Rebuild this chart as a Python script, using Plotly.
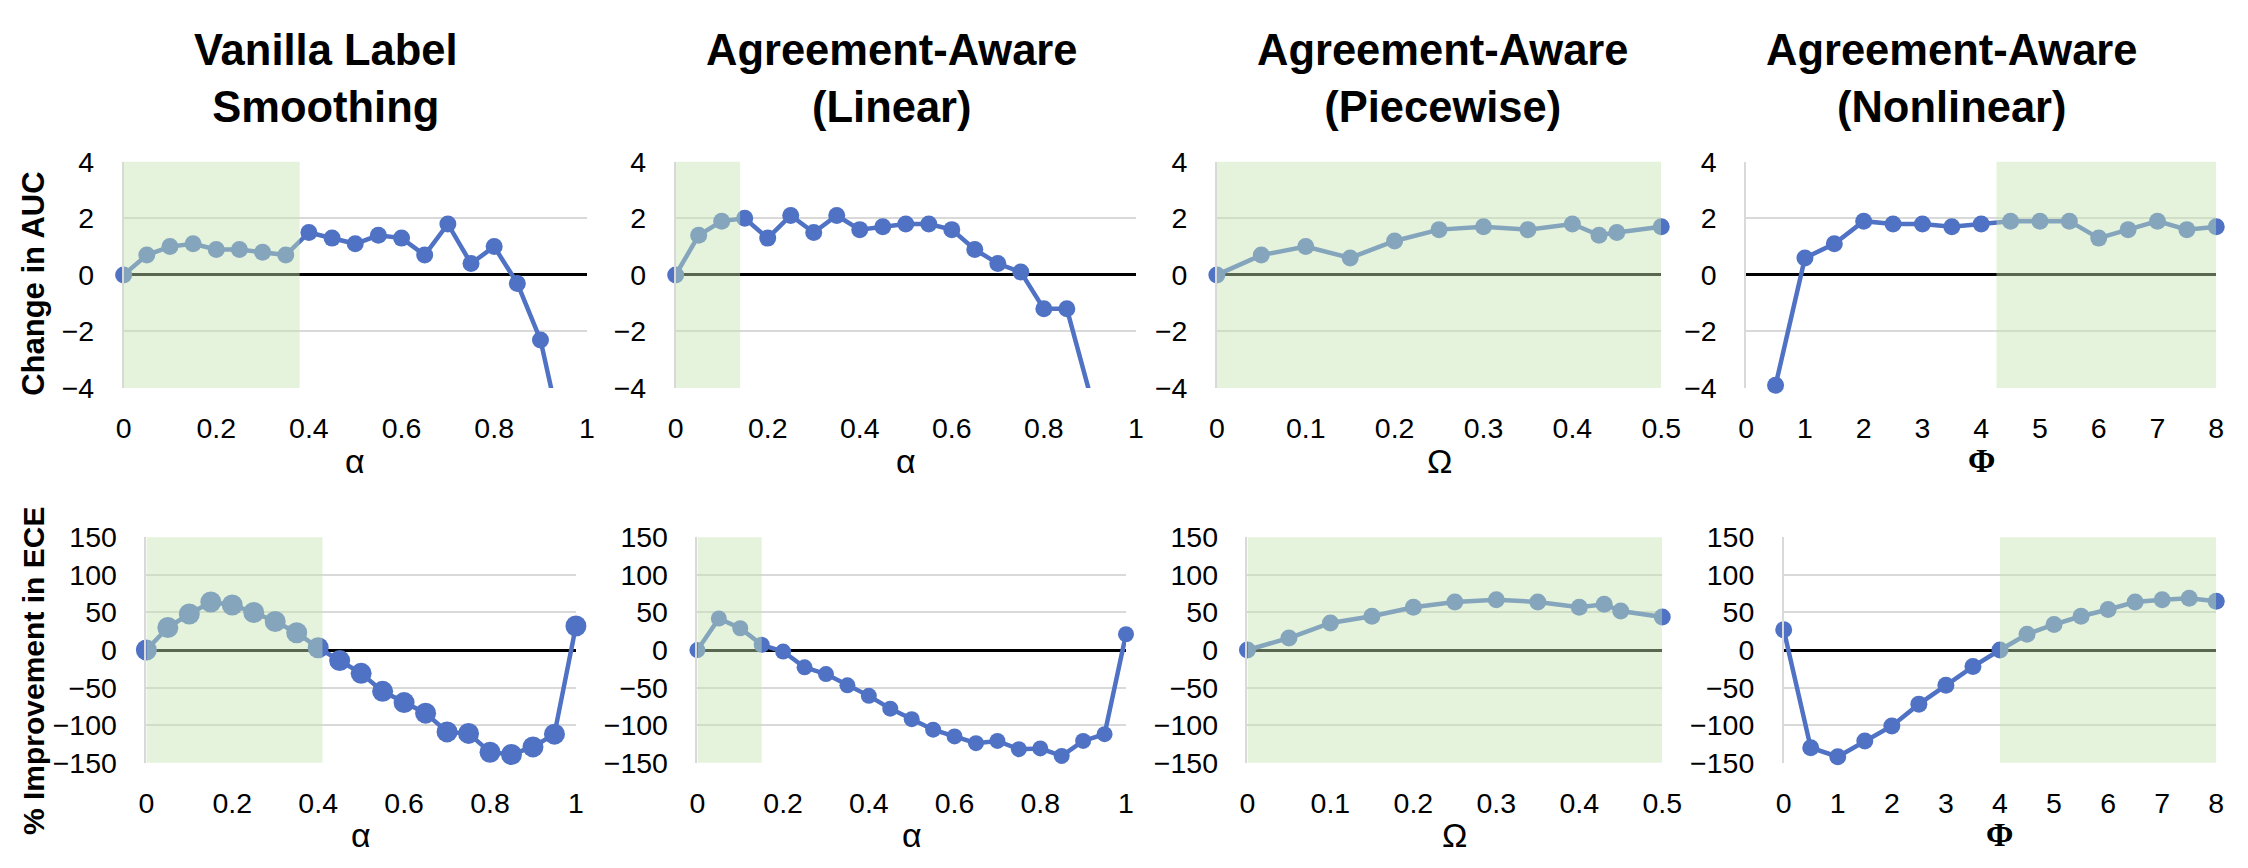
import plotly.graph_objects as go

W, H = 2248, 868

# ---- data ----
alpha_x = [0, 0.05, 0.1, 0.15, 0.2, 0.25, 0.3, 0.35, 0.4, 0.45, 0.5,
           0.55, 0.6, 0.65, 0.7, 0.75, 0.8, 0.85, 0.9, 0.95, 1.0]
omega_x = [0, 0.05, 0.1, 0.15, 0.2, 0.25, 0.3, 0.35, 0.4, 0.43, 0.45, 0.5]
phi_x = [0, 0.5, 1, 1.5, 2, 2.5, 3, 3.5, 4, 4.5, 5, 5.5, 6, 6.5, 7, 7.5, 8]

# Change in AUC
auc_vanilla = [0, 0.7, 1.0, 1.1, 0.9, 0.9, 0.8, 0.7, 1.5, 1.3, 1.1, 1.4, 1.3,
               0.7, 1.8, 0.4, 1.0, -0.3, -2.3, -6.0]
auc_linear = [0, 1.4, 1.9, 2.0, 1.3, 2.1, 1.5, 2.1, 1.6, 1.7, 1.8, 1.8, 1.6,
              0.9, 0.4, 0.1, -1.2, -1.2, -4.2]
auc_piecewise = [0, 0.7, 1.0, 0.6, 1.2, 1.6, 1.7, 1.6, 1.8, 1.4, 1.5, 1.7]
auc_nonlinear = [-3.9, 0.6, 1.1, 1.9, 1.8, 1.8, 1.7, 1.8, 1.9, 1.9, 1.9, 1.3,
                 1.6, 1.9, 1.6, 1.7]

# % Improvement in ECE
ece_vanilla = [0, 30, 48, 64, 60, 50, 38, 23, 3, -14, -31, -55, -70, -84,
               -109, -111, -136, -139, -129, -112, 32]
ece_linear = [0, 42, 29, 7, -2, -23, -32, -47, -61, -78, -92, -106, -115,
              -124, -121, -132, -131, -141, -121, -112, 21]
ece_piecewise = [0, 16, 36, 45, 57, 64, 67, 64, 57, 61, 52, 44]
ece_nonlinear = [27, -130, -142, -121, -101, -72, -47, -22, 0, 21, 34, 45,
                 54, 64, 67, 69, 65]

titles = ["Vanilla Label<br>Smoothing", "Agreement-Aware<br>(Linear)",
          "Agreement-Aware<br>(Piecewise)", "Agreement-Aware<br>(Nonlinear)"]
x_titles = ["α", "α", "Ω", "Φ"]

# shaded (good) regions
shade_top = [(0, 0.38), (0, 0.14), (0, 0.5), (4.26, 8)]
shade_bottom = [(0, 0.41), (0, 0.15), (0, 0.5), (4.0, 8)]

# ---- layout in pixels ----
top_x = [(109, 578), (668, 1134), (1216, 1666), (1752, 2228)]
bot_x = [(132, 567), (690, 1124), (1247, 1667), (1790, 2228)]
top_y = (143, 378)
bot_y = (533, 767)
title_cx = [314, 887, 1445, 1960]

BLUE = "#4F72C4"
GRID = "#D9D9D9"
FONT = "Liberation Sans, Arial, sans-serif"

panels = [
    # (x, y, xrange, dtick, yrange, ytick, shade, marker size, row)
    (alpha_x[:20], auc_vanilla, [0, 1], 0.2, [-4, 4], 2, shade_top[0], 17, 0),
    (alpha_x[:19], auc_linear, [0, 1], 0.2, [-4, 4], 2, shade_top[1], 17, 0),
    (omega_x, auc_piecewise, [0, 0.5], 0.1, [-4, 4], 2, shade_top[2], 17, 0),
    (phi_x[1:], auc_nonlinear, [0, 8], 1, [-4, 4], 2, shade_top[3], 17, 0),
    (alpha_x, ece_vanilla, [0, 1], 0.2, [-150, 150], 50, shade_bottom[0], 21, 1),
    (alpha_x, ece_linear, [0, 1], 0.2, [-150, 150], 50, shade_bottom[1], 16, 1),
    (omega_x, ece_piecewise, [0, 0.5], 0.1, [-150, 150], 50, shade_bottom[2], 17, 1),
    (phi_x, ece_nonlinear, [0, 8], 1, [-150, 150], 50, shade_bottom[3], 17, 1),
]

fig = go.Figure()
shapes = []
annotations = []

for i, (xs, ys, xr, dx, yr, dy, shade, msize, row) in enumerate(panels):
    n = i + 1
    xa = "x" if n == 1 else f"x{n}"
    ya = "y" if n == 1 else f"y{n}"
    col = i % 4
    px0, px1 = (top_x if row == 0 else bot_x)[col]
    py0, py1 = top_y if row == 0 else bot_y

    # line, clipped to the plot area
    fig.add_trace(go.Scatter(x=xs, y=ys, mode="lines", xaxis=xa, yaxis=ya,
                             line=dict(color=BLUE, width=4.5),
                             cliponaxis=True, showlegend=False, hoverinfo="skip"))
    # markers that fall inside the y range, allowed to overhang the edges
    inside = [(a, b) for a, b in zip(xs, ys) if yr[0] - 0.01 <= b <= yr[1] + 0.01]
    fig.add_trace(go.Scatter(x=[p[0] for p in inside], y=[p[1] for p in inside],
                             mode="markers", xaxis=xa, yaxis=ya,
                             marker=dict(color=BLUE, size=msize),
                             cliponaxis=False, showlegend=False))

    fig.layout[f"xaxis{'' if n == 1 else n}"] = dict(
        domain=[px0 / W, px1 / W], anchor=ya, range=xr, dtick=dx, tick0=0,
        showgrid=False, zeroline=False, showline=False,
        ticks="outside", ticklen=15, tickcolor="rgba(0,0,0,0)",
        tickfont=dict(family=FONT, size=28.5, color="black"), fixedrange=True)
    fig.layout[f"yaxis{'' if n == 1 else n}"] = dict(
        domain=[1 - py1 / H, 1 - py0 / H], anchor=xa, range=yr, dtick=dy, tick0=0,
        showgrid=True, gridcolor=GRID, gridwidth=1.5,
        zeroline=True, zerolinecolor="black", zerolinewidth=2.5,
        showline=True, linecolor=GRID, linewidth=1.5,
        ticks="outside", ticklen=22, tickcolor="rgba(0,0,0,0)",
        tickfont=dict(family=FONT, size=28.5, color="black"), fixedrange=True)

    shapes.append(dict(type="rect", xref=xa, yref=f"{ya} domain",
                       x0=shade[0], x1=shade[1], y0=0, y1=1,
                       fillcolor="#C6E5B2", opacity=0.45, line_width=0,
                       layer="above"))

    # x-axis title under each panel
    if x_titles[col] == "Φ":
        xt_text = "<b>Φ</b>"
        xt_font = dict(family="Liberation Serif, serif", size=33, color="black")
    else:
        xt_text = x_titles[col]
        xt_font = dict(family=FONT, size=34, color="black")
    annotations.append(dict(
        text=xt_text, x=(px0 + px1) / 2 / W, y=1 - (454 if row == 0 else 842) / H,
        xref="paper", yref="paper", xanchor="center", yanchor="middle",
        showarrow=False, font=xt_font))

for col in range(4):
    annotations.append(dict(
        text=f"<b>{titles[col]}</b>", x=title_cx[col] / W, y=1 - 57 / H,
        xref="paper", yref="paper", xanchor="center", yanchor="middle",
        showarrow=False, font=dict(family=FONT, size=43.5, color="black")))

annotations.append(dict(text="<b>Change in AUC</b>", x=17 / W, y=1 - 270 / H,
                        xref="paper", yref="paper", textangle=-90,
                        xanchor="center", yanchor="middle", showarrow=False,
                        font=dict(family=FONT, size=31, color="black")))
annotations.append(dict(text="<b>% Improvement in ECE</b>", x=17 / W, y=1 - 672 / H,
                        xref="paper", yref="paper", textangle=-90,
                        xanchor="center", yanchor="middle", showarrow=False,
                        font=dict(family=FONT, size=30, color="black")))

fig.update_layout(width=W, height=H, autosize=False,
                  margin=dict(l=0, r=0, t=0, b=0),
                  paper_bgcolor="white", plot_bgcolor="white",
                  shapes=shapes, annotations=annotations,
                  font=dict(family=FONT))

fig.write_html("out.html", config={"displayModeBar": False})
